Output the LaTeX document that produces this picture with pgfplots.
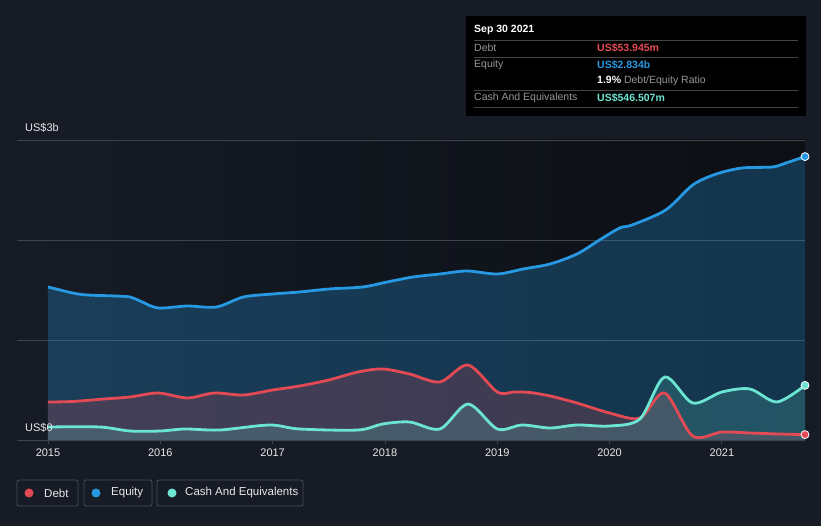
\documentclass[border=0pt]{standalone}
\usepackage{pgfplots}
\pgfplotsset{compat=1.18}
\usepackage{fontspec}
\setmainfont{Liberation Sans}

\definecolor{bgcol}{RGB}{22,27,37}
\definecolor{plotdark}{RGB}{12,15,20}
\definecolor{gridcol}{RGB}{62,67,76}
\definecolor{tickcol}{RGB}{232,232,232}
\definecolor{debtcol}{RGB}{228,74,84}
\definecolor{equitycol}{RGB}{39,152,226}
\definecolor{cashcol}{RGB}{108,228,210}
\definecolor{tipgray}{RGB}{150,150,150}
\definecolor{sepgray}{RGB}{70,70,70}
\definecolor{legborder}{RGB}{72,77,86}

\begin{document}
\begin{tikzpicture}[x=1pt,y=1pt]
\fill[bgcol] (0,0) rectangle (821,526);
\begin{axis}[
    at={(17pt,86pt)}, anchor=south west,
    width=788pt, height=300pt, scale only axis,
    xmin=2014.724, xmax=2021.74,
    ymin=0, ymax=3,
    clip=false,
    axis background/.style={left color=bgcol, right color=plotdark},
    axis line style={draw=none},
    ytick={0,1,2,3}, yticklabels={},
    ytick style={draw=none},
    ymajorgrids,
    grid style={gridcol, line width=0.8pt},
    xtick={2015,2016,2017,2018,2019,2020,2021},
    xticklabels={2015,2016,2017,2018,2019,2020,2021},
    xtick pos=left,
    tick align=outside,
    major tick length=4pt,
    xtick style={gridcol, line width=0.8pt},
    x tick label style={font=\fontsize{11}{13}\selectfont, text=tickcol, yshift=-1pt},
]
% areas
\addplot[draw=none, fill=equitycol, fill opacity=0.28, smooth] coordinates {
(2015.00,1.53) (2015.22,1.47) (2015.35,1.45) (2015.60,1.44) (2015.73,1.43) (2015.82,1.39)
(2015.98,1.32) (2016.24,1.34) (2016.50,1.33) (2016.74,1.43) (2017.00,1.46) (2017.24,1.48)
(2017.50,1.51) (2017.80,1.53) (2018.02,1.58) (2018.25,1.63) (2018.49,1.66) (2018.73,1.69)
(2019.00,1.66) (2019.23,1.71) (2019.47,1.76) (2019.71,1.86) (2019.91,2.00) (2020.09,2.12)
(2020.20,2.15) (2020.50,2.30) (2020.74,2.55) (2020.95,2.66) (2021.18,2.72) (2021.45,2.73)
(2021.57,2.77) (2021.74,2.834)} \closedcycle;
\addplot[draw=none, fill=debtcol, fill opacity=0.2, smooth] coordinates {
(2015.00,0.38) (2015.22,0.385) (2015.50,0.41) (2015.73,0.43) (2015.98,0.47) (2016.24,0.42)
(2016.48,0.47) (2016.74,0.45) (2017.00,0.50) (2017.24,0.54) (2017.50,0.60) (2017.76,0.68)
(2017.98,0.71) (2018.22,0.66) (2018.49,0.58) (2018.74,0.75) (2019.00,0.48) (2019.15,0.48)
(2019.29,0.475) (2019.47,0.44) (2019.71,0.37) (2020.00,0.27) (2020.27,0.22) (2020.49,0.47)
(2020.74,0.04) (2021.00,0.08) (2021.25,0.07) (2021.50,0.06) (2021.74,0.054)} \closedcycle;
\addplot[draw=none, fill=cashcol, fill opacity=0.18, smooth] coordinates {
(2015.00,0.13) (2015.46,0.13) (2015.73,0.09) (2016.00,0.09) (2016.22,0.11) (2016.53,0.10)
(2016.97,0.15) (2017.24,0.11) (2017.76,0.10) (2017.98,0.16) (2018.22,0.18) (2018.49,0.11)
(2018.74,0.36) (2019.00,0.11) (2019.22,0.15) (2019.47,0.12) (2019.71,0.15) (2020.00,0.14)
(2020.27,0.21) (2020.49,0.63) (2020.74,0.37) (2021.00,0.48) (2021.25,0.51) (2021.49,0.38)
(2021.74,0.5465)} \closedcycle;
% lines
\addplot[equitycol, line width=2.8pt, smooth] coordinates {
(2015.00,1.53) (2015.22,1.47) (2015.35,1.45) (2015.60,1.44) (2015.73,1.43) (2015.82,1.39)
(2015.98,1.32) (2016.24,1.34) (2016.50,1.33) (2016.74,1.43) (2017.00,1.46) (2017.24,1.48)
(2017.50,1.51) (2017.80,1.53) (2018.02,1.58) (2018.25,1.63) (2018.49,1.66) (2018.73,1.69)
(2019.00,1.66) (2019.23,1.71) (2019.47,1.76) (2019.71,1.86) (2019.91,2.00) (2020.09,2.12)
(2020.20,2.15) (2020.50,2.30) (2020.74,2.55) (2020.95,2.66) (2021.18,2.72) (2021.45,2.73)
(2021.57,2.77) (2021.74,2.834)};
\addplot[debtcol, line width=2.8pt, smooth] coordinates {
(2015.00,0.38) (2015.22,0.385) (2015.50,0.41) (2015.73,0.43) (2015.98,0.47) (2016.24,0.42)
(2016.48,0.47) (2016.74,0.45) (2017.00,0.50) (2017.24,0.54) (2017.50,0.60) (2017.76,0.68)
(2017.98,0.71) (2018.22,0.66) (2018.49,0.58) (2018.74,0.75) (2019.00,0.48) (2019.15,0.48)
(2019.29,0.475) (2019.47,0.44) (2019.71,0.37) (2020.00,0.27) (2020.27,0.22) (2020.49,0.47)
(2020.74,0.04) (2021.00,0.08) (2021.25,0.07) (2021.50,0.06) (2021.74,0.054)};
\addplot[cashcol, line width=2.8pt, smooth] coordinates {
(2015.00,0.13) (2015.46,0.13) (2015.73,0.09) (2016.00,0.09) (2016.22,0.11) (2016.53,0.10)
(2016.97,0.15) (2017.24,0.11) (2017.76,0.10) (2017.98,0.16) (2018.22,0.18) (2018.49,0.11)
(2018.74,0.36) (2019.00,0.11) (2019.22,0.15) (2019.47,0.12) (2019.71,0.15) (2020.00,0.14)
(2020.27,0.21) (2020.49,0.63) (2020.74,0.37) (2021.00,0.48) (2021.25,0.51) (2021.49,0.38)
(2021.74,0.5465)};
% end markers
\addplot[only marks, mark=*, mark size=4pt, mark options={fill=equitycol, draw=white, line width=0.8pt}] coordinates {(2021.74,2.834)};
\addplot[only marks, mark=*, mark size=4pt, mark options={fill=cashcol, draw=white, line width=0.8pt}] coordinates {(2021.74,0.5465)};
\addplot[only marks, mark=*, mark size=4pt, mark options={fill=debtcol, draw=white, line width=0.8pt}] coordinates {(2021.74,0.054)};
% y labels
\node[anchor=west, inner sep=0, text=tickcol, font=\fontsize{11}{13}\selectfont] at (axis cs:2014.795,3.12) {US\$3b};
\node[anchor=west, inner sep=0, text=tickcol, font=\fontsize{11}{13}\selectfont] at (axis cs:2014.795,0.12) {US\$0};
\end{axis}

% tooltip box
\fill[black] (466,410) rectangle (806,510);
\foreach \yy in {486,469,436,419} \draw[sepgray, line width=0.8pt] (474,\yy) -- (798,\yy);
\begin{scope}[every node/.style={anchor=west, inner sep=0, font=\fontsize{10.5}{12}\selectfont}]
\node[text=white, font=\fontsize{10.5}{12}\selectfont\bfseries] at (474,496) {Sep 30 2021};
\node[text=tipgray] at (474,478) {Debt};
\node[text=debtcol, font=\fontsize{10.5}{12}\selectfont\bfseries] at (597,478) {US\$53.945m};
\node[text=tipgray] at (474,461) {Equity};
\node[text=equitycol, font=\fontsize{10.5}{12}\selectfont\bfseries] at (597,461) {US\$2.834b};
\node[text=tipgray] at (597,445) {\textcolor{white}{\bfseries 1.9\%} Debt/Equity Ratio};
\node[text=tipgray] at (474,428) {Cash And Equivalents};
\node[text=cashcol, font=\fontsize{10.5}{12}\selectfont\bfseries] at (597,428) {US\$546.507m};
\end{scope}

% legend
\begin{scope}[every node/.style={anchor=west, inner sep=0, text=tickcol, font=\fontsize{11.5}{13}\selectfont}]
\draw[legborder, line width=0.8pt, rounded corners=2pt] (17,20) rectangle (78,46);
\fill[debtcol] (29,33) circle (4.5);
\node at (44,33) {Debt};
\draw[legborder, line width=0.8pt, rounded corners=2pt] (84,20) rectangle (152,46);
\fill[equitycol] (96,33) circle (4.5);
\node at (111,33) {Equity};
\draw[legborder, line width=0.8pt, rounded corners=2pt] (157,20) rectangle (303,46);
\fill[cashcol] (172,33) circle (4.5);
\node at (185,33) {Cash And Equivalents};
\end{scope}
\end{tikzpicture}
\end{document}
